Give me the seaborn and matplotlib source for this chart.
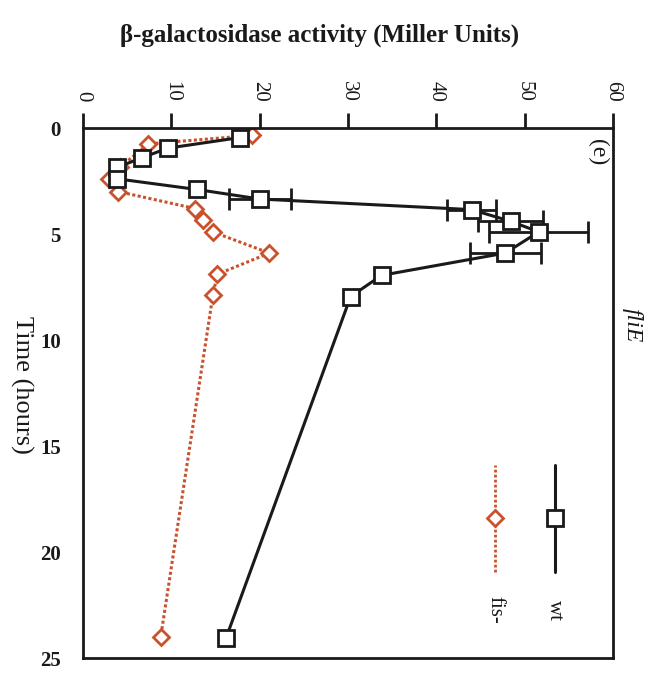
import matplotlib
matplotlib.use("Agg")
import matplotlib.pyplot as plt
import seaborn as sns
import pandas as pd
import numpy as np

# ---- data ----
wt_time = [0.45, 0.95, 1.4, 1.85, 2.4, 2.9, 3.35, 3.85, 4.4, 4.9, 5.9, 6.95, 7.95, 24.05]
wt_activity = [17.8, 9.6, 6.7, 3.9, 3.9, 12.9, 20.0, 44.0, 48.4, 51.6, 47.8, 33.8, 30.3, 16.2]
wt_err = [0, 0, 0, 0, 0, 0, 3.5, 2.8, 3.7, 5.6, 4.0, 0, 0, 0]

fis_time = [0.35, 0.75, 1.85, 2.4, 3.0, 3.8, 4.35, 4.9, 5.9, 6.9, 7.9, 24.0]
fis_activity = [19.1, 7.4, 4.2, 2.9, 4.0, 12.7, 13.6, 14.7, 21.1, 15.2, 14.7, 8.8]

activity_ticks = [0, 10, 20, 30, 40, 50, 60]
time_ticks = [0, 5, 10, 15, 20, 25]

series_names = ["wt", "fis-"]
black = "#1a1a1a"
orange = "#c9522c"

wt = pd.DataFrame({"time": wt_time, "activity": wt_activity, "err": wt_err})
fis = pd.DataFrame({"time": fis_time, "activity": fis_activity})

sns.set_style("white")
plt.rcParams["font.family"] = ["Liberation Serif", "DejaVu Serif"]

fig = plt.figure(figsize=(6.49, 6.77), dpi=100)
ax = fig.add_axes([83 / 649, 1 - 658 / 677, 530 / 649, 530 / 677])

# fis- (drawn first, below wt)
sns.lineplot(data=fis, x="activity", y="time", orient="y", ax=ax,
             color=orange, linestyle=(0, (1, 0.8)), linewidth=2.2,
             marker="D", markersize=8.5, markerfacecolor="white",
             markeredgecolor=orange, markeredgewidth=2.0, zorder=2)

# wt error bars
we = wt[wt["err"] > 0]
ax.errorbar(we["activity"], we["time"], xerr=we["err"], fmt="none",
            ecolor=black, elinewidth=2.0, capsize=8, capthick=2.0, zorder=3)

# wt
sns.lineplot(data=wt, x="activity", y="time", orient="y", ax=ax,
             color=black, linewidth=2.2,
             marker="s", markersize=11.5, markerfacecolor="white",
             markeredgecolor=black, markeredgewidth=2.0, zorder=4)

ax.set_xlim(0, 60)
ax.set_ylim(25, 0)
ax.set_xticks(activity_ticks)
ax.set_yticks(time_ticks)
ax.xaxis.tick_top()
ax.set_xlabel("")
ax.set_ylabel("")
ax.tick_params(axis="x", direction="out", length=11, width=2, pad=8,
               labelsize=15, labelrotation=-90, colors=black)
ax.tick_params(axis="y", direction="out", length=11, width=2, pad=5,
               labelsize=15, colors=black)
for lab in ax.get_yticklabels():
    lab.set_fontweight("bold")
for s in ax.spines.values():
    s.set_visible(True)
    s.set_linewidth(2)
    s.set_color(black)
ax.grid(False)

# manual rotated legend
tr = ax.transAxes
for xpos, name, col, ls, mk in [(0.89, series_names[0], black, "-", "s"),
                                (0.777, series_names[1], orange, (0, (1, 0.8)), "D")]:
    ax.plot([xpos, xpos], [0.162, 0.364], transform=tr, color=col,
            linestyle=ls, linewidth=2.2 if mk == "s" else 2.0, clip_on=False)
    ax.plot([xpos], [0.264], transform=tr, marker=mk, markersize=11.5 if mk == "s" else 8.5,
            markerfacecolor="white", markeredgecolor=col, markeredgewidth=2.0,
            linestyle="none")
    ax.text(xpos, 0.09, name, transform=tr, rotation=-90, ha="center", va="center",
            fontsize=15, color=black)

ax.text(0.97, 0.955, "(e)", transform=tr, rotation=-90, ha="center", va="center",
        fontsize=17, color=black)
fig.text(632 / 649, 1 - 325 / 677, "fliE", rotation=-90, ha="center", va="center",
         fontsize=17, style="italic", color=black)

fig.text(320 / 649, 1 - 35 / 677, "β-galactosidase activity (Miller Units)",
         ha="center", va="center", fontsize=18, fontweight="bold", color=black)
fig.text(22 / 649, 1 - 385 / 677, "Time (hours)", rotation=-90,
         ha="center", va="center", fontsize=19, color=black)

fig.savefig("out.png", dpi=100)
